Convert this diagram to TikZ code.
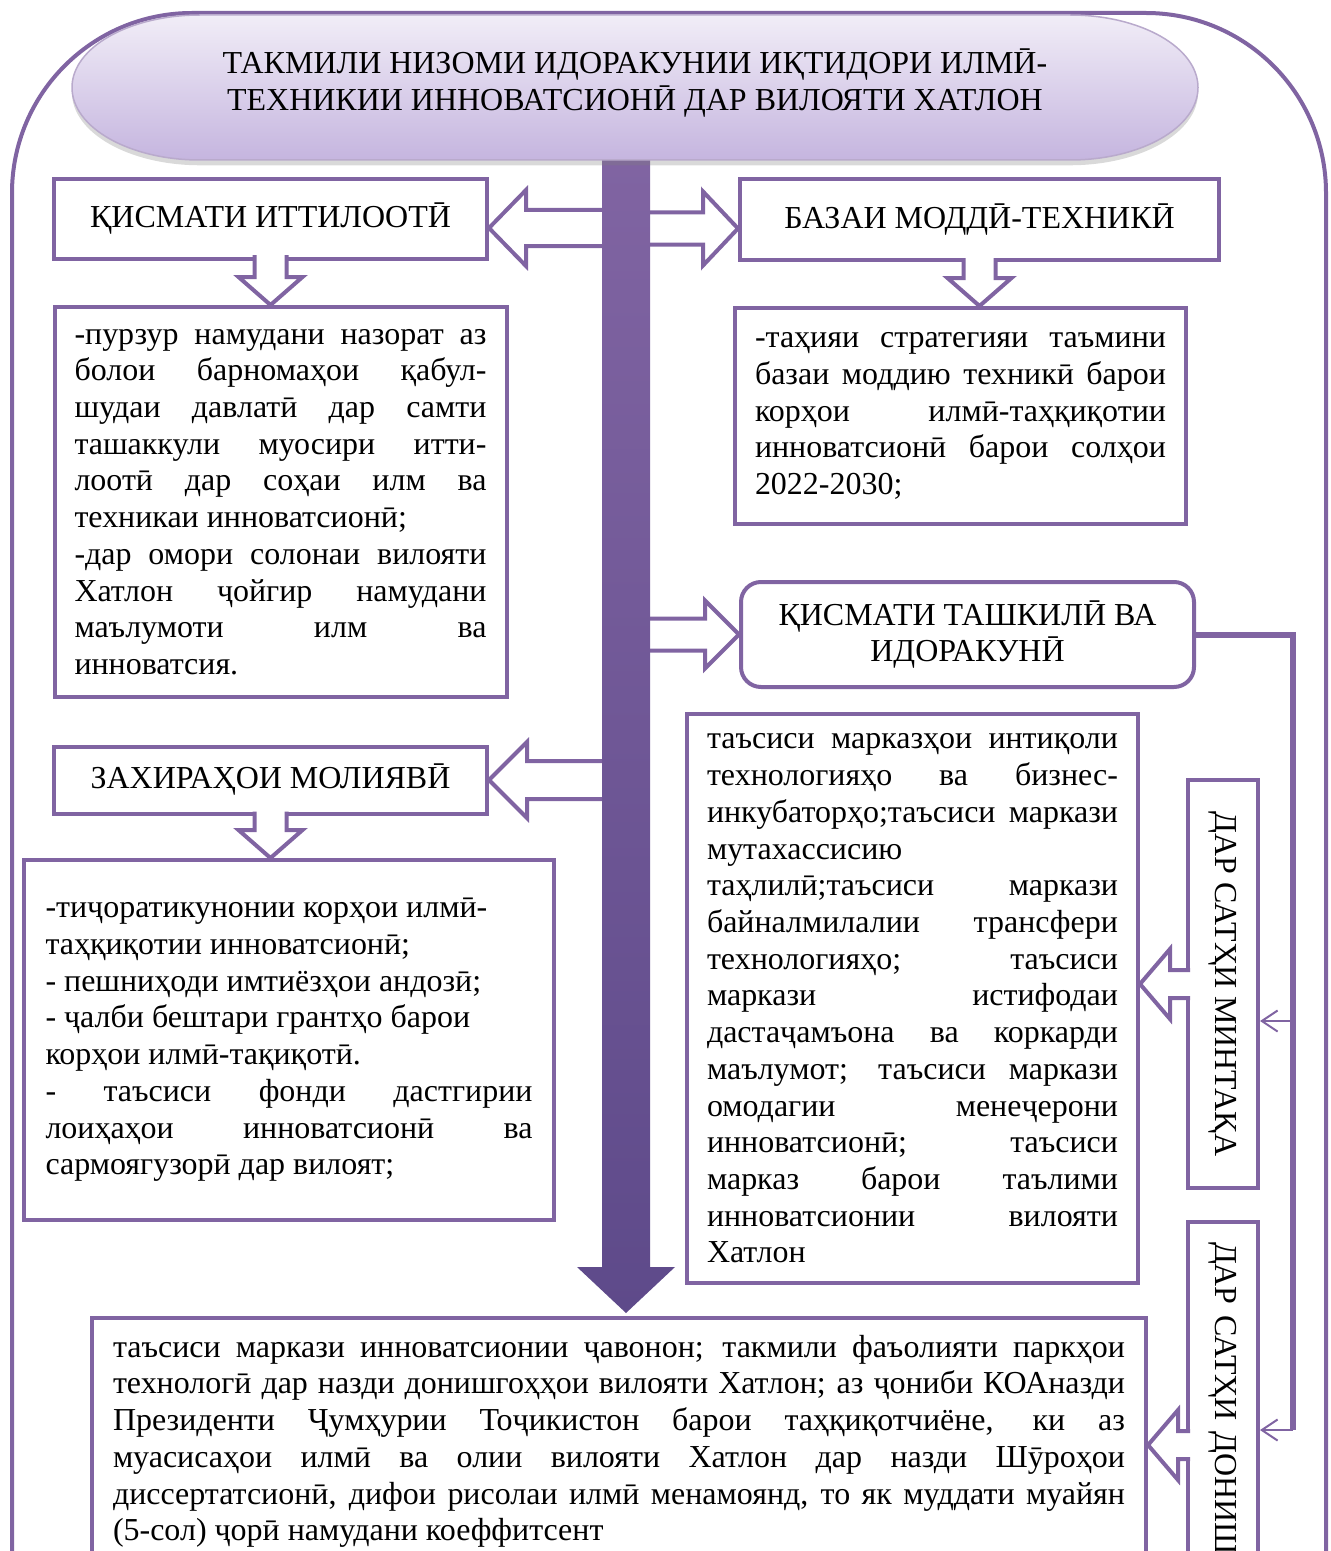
\documentclass[tikz,border=0pt]{standalone}
\usepackage{fontspec}
\setmainfont{Liberation Serif}
\usetikzlibrary{shapes,arrows.meta,positioning,shadows,backgrounds}

\definecolor{vio}{HTML}{8064A2}
\definecolor{viodark}{HTML}{5E4A8A}
\definecolor{titletop}{HTML}{F1EDF7}
\definecolor{titlebot}{HTML}{C5B5DF}

\newdimen\px \px=0.02cm
\newcommand{\hollowarrow}[6]{%
  \fill[white,shift={(#1)},rotate=#2] (0,0) -- (#4,-#5) -- (#4,-#6) -- (#3+2.5,-#6) -- (#3+2.5,#6) -- (#4,#6) -- (#4,#5) -- cycle;
  \draw[hollow,shift={(#1)},rotate=#2] (#3,-#6) -- (#4,-#6) -- (#4,-#5) -- (0,0) -- (#4,#5) -- (#4,#6) -- (#3,#6);}

\tikzset{
  box/.style={draw=vio, line width=4\px, fill=white, inner sep=0pt},
  headbox/.style={box, align=center},
  txtbox/.style={box, inner xsep=20\px, align=justify},
  hollow/.style={draw=vio, line width=4\px},
  link/.style={draw=vio, line width=6\px},
  thin link/.style={draw=vio, line width=2\px, ->},
}

\begin{document}
\begin{tikzpicture}[x=\px,y=-\px,>={Straight Barb[length=9pt,width=12pt]},
  font={\fontsize{18.2}{20.9}\selectfont\spaceskip=.25em plus 2em minus .05em\hyphenpenalty=10000\exhyphenpenalty=10000\tolerance=9999}]
  \useasboundingbox (0,0) rectangle (1331,1551);

  \path[top color=vio, bottom color=viodark] (602,160) -- (650,160) -- (650,1267) -- (675,1267) -- (626,1313) -- (577,1267) -- (602,1267) -- cycle;
  \path[top color=titletop, bottom color=titlebot, draw=vio!55, line width=1.5\px,
    drop shadow={opacity=0.3, shadow xshift=0pt, shadow yshift=-3pt}]
    (200,15) -- (1070,15) arc[start angle=-90, end angle=90, x radius=128, y radius=72.5]
    -- (200,160) arc[start angle=90, end angle=270, x radius=128, y radius=72.5] -- cycle;
  \node[align=center] (title) at (635,83) {ТАКМИЛИ НИЗОМИ ИДОРАКУНИИ ИҚТИДОРИ ИЛМӢ-\\ТЕХНИКИИ ИННОВАТСИОНӢ ДАР ВИЛОЯТИ ХАТЛОН};

  \node[headbox, minimum width=433\px, minimum height=80\px] (itt) at (270.5,219) {ҚИСМАТИ ИТТИЛООТӢ};
  \node[headbox, minimum width=479\px, minimum height=81\px] (modd) at (979.5,219.5) {БАЗАИ МОДДӢ-ТЕХНИКӢ};
  \node[txtbox, text width=412\px, minimum height=390\px] (itttxt) at (280.5,502) {%
    -пурзур намудани назорат аз\linebreak
    болои барномаҳои қабул-\linebreak
    шудаи давлатӣ дар самти\linebreak
    ташаккули муосири итти-\linebreak
    лоотӣ дар соҳаи илм ва\linebreak
    техникаи инноватсионӣ;\par
    -дар омори солонаи вилояти\linebreak
    Хатлон ҷойгир намудани\linebreak
    маълумоти илм ва\linebreak
    инноватсия.};
  \node[txtbox, text width=411\px, minimum height=216\px] (moddtxt) at (960.5,416) {%
    -таҳияи стратегияи таъмини\linebreak
    базаи моддию техникӣ барои\linebreak
    корҳои илмӣ-таҳқиқотии\linebreak
    инноватсионӣ барои солҳои\linebreak
    2022-2030;};
  \node[headbox, rounded corners=20\px, minimum width=453\px, minimum height=105\px] (tash) at (967.5,634.5) {ҚИСМАТИ ТАШКИЛӢ ВА\\ИДОРАКУНӢ};
  \node[txtbox, text width=411\px, minimum height=569\px] (tashtxt) at (912.5,998.5) {%
    таъсиси марказҳои интиқоли\linebreak
    технологияҳо ва бизнес-\linebreak
    инкубаторҳо;таъсиси маркази\linebreak
    мутахассисию\newline
    таҳлилӣ;таъсиси маркази\linebreak
    байналмилалии трансфери\linebreak
    технологияҳо; таъсиси\linebreak
    маркази истифодаи\linebreak
    дастаҷамъона ва коркарди\linebreak
    маълумот; таъсиси маркази\linebreak
    омодагии менеҷерони\linebreak
    инноватсионӣ; таъсиси\linebreak
    марказ барои таълими\linebreak
    инноватсионии вилояти\linebreak
    Хатлон};
  \node[headbox, minimum width=433\px, minimum height=67\px] (zah) at (270.5,780) {ЗАХИРАҲОИ МОЛИЯВӢ};
  \node[txtbox, text width=487\px, inner xsep=21.5\px, minimum height=360\px] (zahtxt) at (289,1040) {%
    -тиҷоратикунонии корҳои илмӣ-\newline
    таҳқиқотии инноватсионӣ;\newline
    - пешниҳоди имтиёзҳои андозӣ;\newline
    - ҷалби бештари грантҳо барои\newline
    корҳои илмӣ-тақиқотӣ.\newline
    - таъсиси фонди дастгирии\linebreak
    лоиҳаҳои инноватсионӣ ва\linebreak
    сармоягузорӣ дар вилоят;};
  \node[box, rotate=-90, minimum width=408\px, minimum height=70\px] (mint) at (1223,984) {ДАР САТҲИ МИНТАҚА};
  \node[box, rotate=-90, anchor=west, minimum height=70\px, text width=400\px, inner xsep=20\px, align=left] (don) at (1223,1220) {ДАР САТҲИ ДОНИШГОҲ};
  \node[txtbox, anchor=north, text width=1012\px, inner xsep=21\px, inner ysep=17\px] (bot) at (619,1316) {%
    таъсиси маркази инноватсионии ҷавонон; такмили фаъолияти паркҳои\linebreak
    технологӣ дар назди донишгоҳҳои вилояти Хатлон; аз ҷониби КОАназди\linebreak
    Президенти Ҷумҳурии Тоҷикистон барои таҳқиқотчиёне, ки аз\linebreak
    муасисаҳои илмӣ ва олии вилояти Хатлон дар назди Шӯроҳои\linebreak
    диссертатсионӣ, дифои рисолаи илмӣ менамоянд, то як муддати муайян\linebreak
    (5-сол) ҷорӣ намудани коеффитсент\newline
    \mbox{}};

  \coordinate (jmint) at (1293,1021);
  \coordinate (jdon) at (1293,1430);
  \coordinate (dn) at (1223,1445);
  \draw[link] (tash.east) -| (jdon);
  \draw[thin link] (jmint) -- (jmint -| mint.north);
  \draw[thin link] (jdon) -- (jdon -| don.north);

  \hollowarrow{itt.south |- itttxt.north}{90}{50}{28}{32}{16}
  \hollowarrow{modd.south |- moddtxt.north}{90}{48}{28}{32}{16}
  \hollowarrow{zah.south |- zahtxt.north}{90}{46.5}{28}{32}{16}
  \hollowarrow{tashtxt.east |- mint.south}{0}{50}{30}{35}{14}
  \hollowarrow{bot.east |- dn}{0}{42}{30}{35}{14}

  \begin{scope}[on background layer]
    \draw[vio, line width=4\px, rounded corners=180\px] (12,1700) -- (12,13) -- (1326,13) -- (1326,1700);
    \hollowarrow{[yshift=-9\px]itt.east}{0}{125}{37}{38}{18}
    \hollowarrow{[yshift=-9\px]modd.west}{180}{98}{35}{37}{16}
    \hollowarrow{zah.east}{0}{125}{38}{38}{19}
    \hollowarrow{tash.west}{180}{98}{34}{34}{16}
  \end{scope}
\end{tikzpicture}
\end{document}
